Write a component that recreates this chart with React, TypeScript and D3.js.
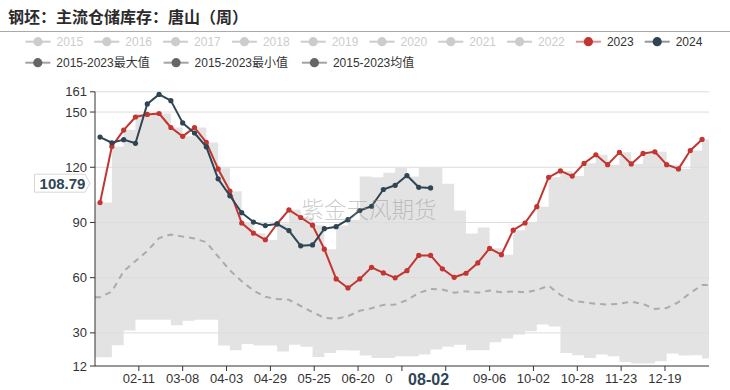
import React from "react";
import * as d3 from "d3";

// ---------- data ----------
const axisDomain = ["2024-01-16", "2025-01-15"];

const weekDates = [
  "2024-01-19", "2024-01-26", "2024-02-02", "2024-02-09", "2024-02-16", "2024-02-23",
  "2024-03-01", "2024-03-08", "2024-03-15", "2024-03-22", "2024-03-29", "2024-04-05",
  "2024-04-12", "2024-04-19", "2024-04-26", "2024-05-03", "2024-05-10", "2024-05-17",
  "2024-05-24", "2024-05-31", "2024-06-07", "2024-06-14", "2024-06-21", "2024-06-28",
  "2024-07-05", "2024-07-12", "2024-07-19", "2024-07-26", "2024-08-02", "2024-08-09",
  "2024-08-16", "2024-08-23", "2024-08-30", "2024-09-06", "2024-09-13", "2024-09-20",
  "2024-09-27", "2024-10-04", "2024-10-11", "2024-10-18", "2024-10-25", "2024-11-01",
  "2024-11-08", "2024-11-15", "2024-11-22", "2024-11-29", "2024-12-06", "2024-12-13",
  "2024-12-20", "2024-12-27", "2025-01-03", "2025-01-10",
];

const series2023 = [
  100.8, 131.3, 140.2, 147.3, 148.7, 149.2, 141.6, 136.8, 141.6, 133.5, 119.1, 107.1,
  89.7, 84.2, 80.6, 89.3, 96.8, 92.7, 88.5, 75.5, 59.3, 54.4, 59.3, 65.6,
  62.6, 59.9, 63.8, 72.1, 72.1, 64.8, 60.2, 62.4, 68.0, 75.9, 72.5, 85.8,
  89.7, 98.6, 114.5, 118.0, 115.2, 122.1, 126.8, 121.4, 128.1, 121.8, 127.5, 128.4,
  121.4, 119.1, 129.1, 135.1,
];

const series2024 = [
  136.4, 133.3, 135.0, 133.0, 154.4, 159.6, 156.2, 144.1, 138.6, 131.1, 113.7, 104.5,
  95.3, 90.2, 88.3, 89.2, 85.6, 77.3, 77.8, 86.6, 87.7, 91.5, 96.5, 98.8,
  107.9, 110.2, 115.5, 109.1, 108.79,
];

const rangeMax = [
  100.8, 131.3, 140.4, 148.9, 148.9, 149.2, 141.6, 136.8, 141.6, 133.5, 119.4, 107.0,
  89.7, 84.2, 80.5, 89.4, 96.9, 92.7, 88.5, 75.5, 88.3, 91.5, 115.0, 114.5,
  117.0, 119.7, 115.0, 119.8, 119.6, 111.0, 96.5, 84.0, 87.3, 76.0, 72.5, 85.8,
  89.9, 98.6, 114.6, 118.0, 115.2, 122.2, 126.8, 121.4, 128.1, 121.8, 127.5, 128.4,
  121.4, 119.1, 129.1, 135.1,
];

const rangeMin = [
  16.8, 23.3, 31.3, 37.2, 37.2, 37.2, 34.1, 36.6, 37.2, 37.2, 23.1, 20.6,
  24.0, 23.1, 23.1, 19.9, 23.6, 22.4, 16.9, 19.1, 20.6, 20.4, 17.7, 16.4,
  16.4, 17.3, 17.3, 18.2, 20.9, 22.4, 23.5, 20.6, 20.6, 24.9, 27.0, 29.1,
  30.9, 34.5, 33.4, 19.1, 17.9, 16.4, 18.2, 17.3, 14.2, 13.3, 13.3, 14.6,
  18.8, 17.7, 17.9, 16.1,
];

const rangeMean = [
  49.3, 52.5, 63.5, 69.0, 74.5, 81.5, 83.5, 82.3, 81.3, 79.3, 71.5, 64.0,
  58.0, 53.0, 49.6, 48.4, 48.0, 44.6, 41.3, 38.2, 37.7, 39.1, 42.0, 43.4,
  45.2, 45.4, 47.8, 51.7, 53.8, 53.6, 51.8, 52.6, 51.8, 53.0, 52.1, 52.5,
  52.0, 53.2, 55.6, 50.6, 47.4, 46.6, 45.8, 45.4, 45.8, 46.9, 45.7, 43.0,
  43.5, 46.7, 51.7, 56.0,
];

const xTickDates = [
  "2024-02-11", "2024-03-08", "2024-04-03", "2024-04-29", "2024-05-25", "2024-06-20",
  "2024-07-16", "2024-08-11", "2024-09-06", "2024-10-02", "2024-10-28", "2024-11-23",
  "2024-12-19",
];
const yTickValues = [12, 30, 60, 90, 120, 150, 161];
const yDomain = [12, 161];

const legendYears = ["2015", "2016", "2017", "2018", "2019", "2020", "2021", "2022", "2023", "2024"];
const legendStats = ["2015-2023最大值", "2015-2023最小值", "2015-2023均值"];

const pointerDate = "2024-08-02";
const pointerValue = 108.79;

const titleText = "钢坯：主流仓储库存：唐山（周）";
const watermark = "紫金天风期货";

// ---------- styles ----------
const W = 730;
const H = 390;
const plot = { left: 95, right: 709, top: 91.8, bottom: 366 };
const FONT = "'Liberation Sans', Arial, 'Noto Sans CJK SC', sans-serif";
const C2023 = "#c23531";
const C2024 = "#2f4554";
const BAND = "#e3e3e3";
const MEAN = "#ababab";

const parse = d3.timeParse("%Y-%m-%d");
const fmt = d3.timeFormat("%m-%d");

export default function App() {
  const x = d3
    .scaleTime()
    .domain(axisDomain.map((s) => parse(s) as Date))
    .range([plot.left, 710.5]);
  const y = d3.scaleLinear().domain(yDomain).range([plot.bottom, plot.top]);

  const dates = weekDates.map((s) => parse(s) as Date);
  const d0 = parse(axisDomain[0]) as Date;
  const d1 = parse(axisDomain[1]) as Date;

  type B = { d: Date; lo: number; hi: number };
  const band: B[] = [
    { d: d0, lo: rangeMin[0], hi: rangeMax[0] },
    ...dates.map((d, i) => ({ d, lo: rangeMin[i], hi: rangeMax[i] })),
    { d: d1, lo: rangeMin[rangeMin.length - 1], hi: rangeMax[rangeMax.length - 1] },
  ];
  const areaGen = d3
    .area<B>()
    .x((d) => x(d.d))
    .y0((d) => y(d.lo))
    .y1((d) => y(d.hi))
    .curve(d3.curveStepAfter);

  type P = { d: Date; v: number };
  const meanPts: P[] = [
    { d: d0, v: rangeMean[0] },
    ...dates.map((d, i) => ({ d, v: rangeMean[i] })),
    { d: d1, v: rangeMean[rangeMean.length - 1] },
  ];
  const lineGen = d3
    .line<P>()
    .x((d) => x(d.d))
    .y((d) => y(d.v));

  const pts2023: P[] = series2023.map((v, i) => ({ d: dates[i], v }));
  const pts2024: P[] = series2024.map((v, i) => ({ d: dates[i], v }));

  const px = x(parse(pointerDate) as Date);
  const py = y(pointerValue) - 4.7;
  const boxL = px - 37;
  const boxR = px + 35;
  const labelHalf = 17;

  const legendIcon = (lx: number, ly: number, lineCol: string, dotCol: string, lineOp = 1) => (
    <g>
      <line x1={lx} x2={lx + 25} y1={ly} y2={ly} stroke={lineCol} strokeWidth={2} strokeOpacity={lineOp} />
      <circle cx={lx + 12.5} cy={ly} r={4.6} fill={dotCol} />
    </g>
  );

  return (
    <svg
      width={W}
      height={H}
      style={{ position: "absolute", left: 0, top: 0, background: "#fff" }}
      fontFamily={FONT}
    >
      <defs>
        <clipPath id="plotClip">
          <rect x={plot.left} y={0} width={plot.right - plot.left} height={plot.bottom} />
        </clipPath>
        <clipPath id="labelClip">
          <rect x={0} y={0} width={boxL} height={H} />
        </clipPath>
      </defs>

      {/* title */}
      <text x={8} y={15.5} fontSize={16} fontWeight="bold" fill="#2b2b2b" dominantBaseline="central"
        fontFamily="'Noto Sans CJK SC', sans-serif">
        {titleText}
      </text>
      <line x1={0} x2={W} y1={31.5} y2={31.5} stroke="#aaa" strokeWidth={1} />

      {/* legend row 1 */}
      {legendYears.map((name, i) => {
        const lx = 25.5 + i * 68.8;
        const ly = 41.7;
        const active = name === "2023" || name === "2024";
        const col = name === "2023" ? C2023 : name === "2024" ? C2024 : "#ccc";
        return (
          <g key={name}>
            {legendIcon(lx, ly, col, col, active ? 0.55 : 1)}
            <text x={lx + 31} y={ly} fontSize={12} fill={active ? "#333" : "#ccc"} dominantBaseline="central">
              {name}
            </text>
          </g>
        );
      })}
      {/* legend row 2 */}
      {legendStats.map((name, i) => {
        const lx = 25.3 + i * 138.3;
        const ly = 62.7;
        return (
          <g key={name}>
            {legendIcon(lx, ly, "#666", "#666", 0.6)}
            <text x={lx + 31} y={ly} fontSize={12} fill="#333" dominantBaseline="central">
              {name}
            </text>
          </g>
        );
      })}

      {/* band */}
      <g clipPath="url(#plotClip)">
        <path d={areaGen(band) || ""} fill={BAND} />
      </g>

      {/* grid */}
      {yTickValues
        .filter((v) => v !== yDomain[0])
        .map((v) => (
          <line key={v} x1={plot.left} x2={plot.right} y1={y(v)} y2={y(v)} stroke="#dcdcdc" strokeWidth={1} />
        ))}

      {/* mean */}
      <g clipPath="url(#plotClip)">
        <path d={lineGen(meanPts) || ""} fill="none" stroke={MEAN} strokeWidth={2} strokeDasharray="6 5" />
      </g>

      {/* 2023 */}
      <path d={lineGen(pts2023) || ""} fill="none" stroke={C2023} strokeWidth={2} strokeLinejoin="round" />
      {pts2023.map((p, i) => (
        <circle key={"a" + i} cx={x(p.d)} cy={y(p.v)} r={2.6} fill={C2023} />
      ))}
      {/* 2024 */}
      <path d={lineGen(pts2024) || ""} fill="none" stroke={C2024} strokeWidth={2} strokeLinejoin="round" />
      {pts2024.map((p, i) => (
        <circle key={"b" + i} cx={x(p.d)} cy={y(p.v)} r={2.6} fill={C2024} />
      ))}

      {/* axes */}
      <line x1={plot.left} x2={plot.left} y1={plot.top} y2={plot.bottom} stroke="#333" strokeWidth={1} />
      <line x1={plot.left} x2={plot.right} y1={plot.bottom} y2={plot.bottom} stroke="#333" strokeWidth={1} />
      {yTickValues.map((v) => (
        <g key={"yt" + v}>
          <line x1={plot.left - 5} x2={plot.left} y1={y(v)} y2={y(v)} stroke="#333" />
          <text x={87} y={y(v)} fontSize={13} fill="#333" textAnchor="end" dominantBaseline="central">
            {v}
          </text>
        </g>
      ))}
      {xTickDates.map((s) => {
        const d = parse(s) as Date;
        const tx = x(d);
        const l = tx - labelHalf;
        const r = tx + labelHalf;
        const fullyHidden = l >= boxL && r <= boxR;
        const partly = !fullyHidden && r > boxL && l < boxR;
        return (
          <g key={s}>
            <line x1={tx} x2={tx} y1={plot.bottom} y2={plot.bottom + 5} stroke="#333" />
            {!fullyHidden && (
              <text x={tx} y={378.5} fontSize={13} fill="#333" textAnchor="middle" dominantBaseline="central"
                clipPath={partly ? "url(#labelClip)" : undefined}>
                {fmt(d)}
              </text>
            )}
          </g>
        );
      })}

      {/* x pointer label */}
      <rect x={boxL} y={371.5} width={boxR - boxL} height={19} fill="#fff" />
      <text x={px - 2} y={379.5} fontSize={16} fontWeight="bold" fill={C2024} textAnchor="middle" dominantBaseline="central">
        {fmt(parse(pointerDate) as Date)}
      </text>

      {/* y pointer label */}
      <path
        d={`M34.5,${py - 9} H85 L90,${py} L85,${py + 9} H34.5 Z`}
        fill="#fff"
        stroke="#d6d6d6"
        strokeWidth={1}
      />
      <text x={62.5} y={py + 0.5} fontSize={15} fontWeight="bold" fill={C2024} textAnchor="middle" dominantBaseline="central">
        {pointerValue.toFixed(2)}
      </text>

      {/* watermark */}
      <text x={369} y={207.5} fontSize={22.5} fontWeight={300} fill="rgba(140,140,140,0.45)" textAnchor="middle"
        dominantBaseline="central" fontFamily="'Noto Sans CJK SC', sans-serif">
        {watermark}
      </text>
    </svg>
  );
}
